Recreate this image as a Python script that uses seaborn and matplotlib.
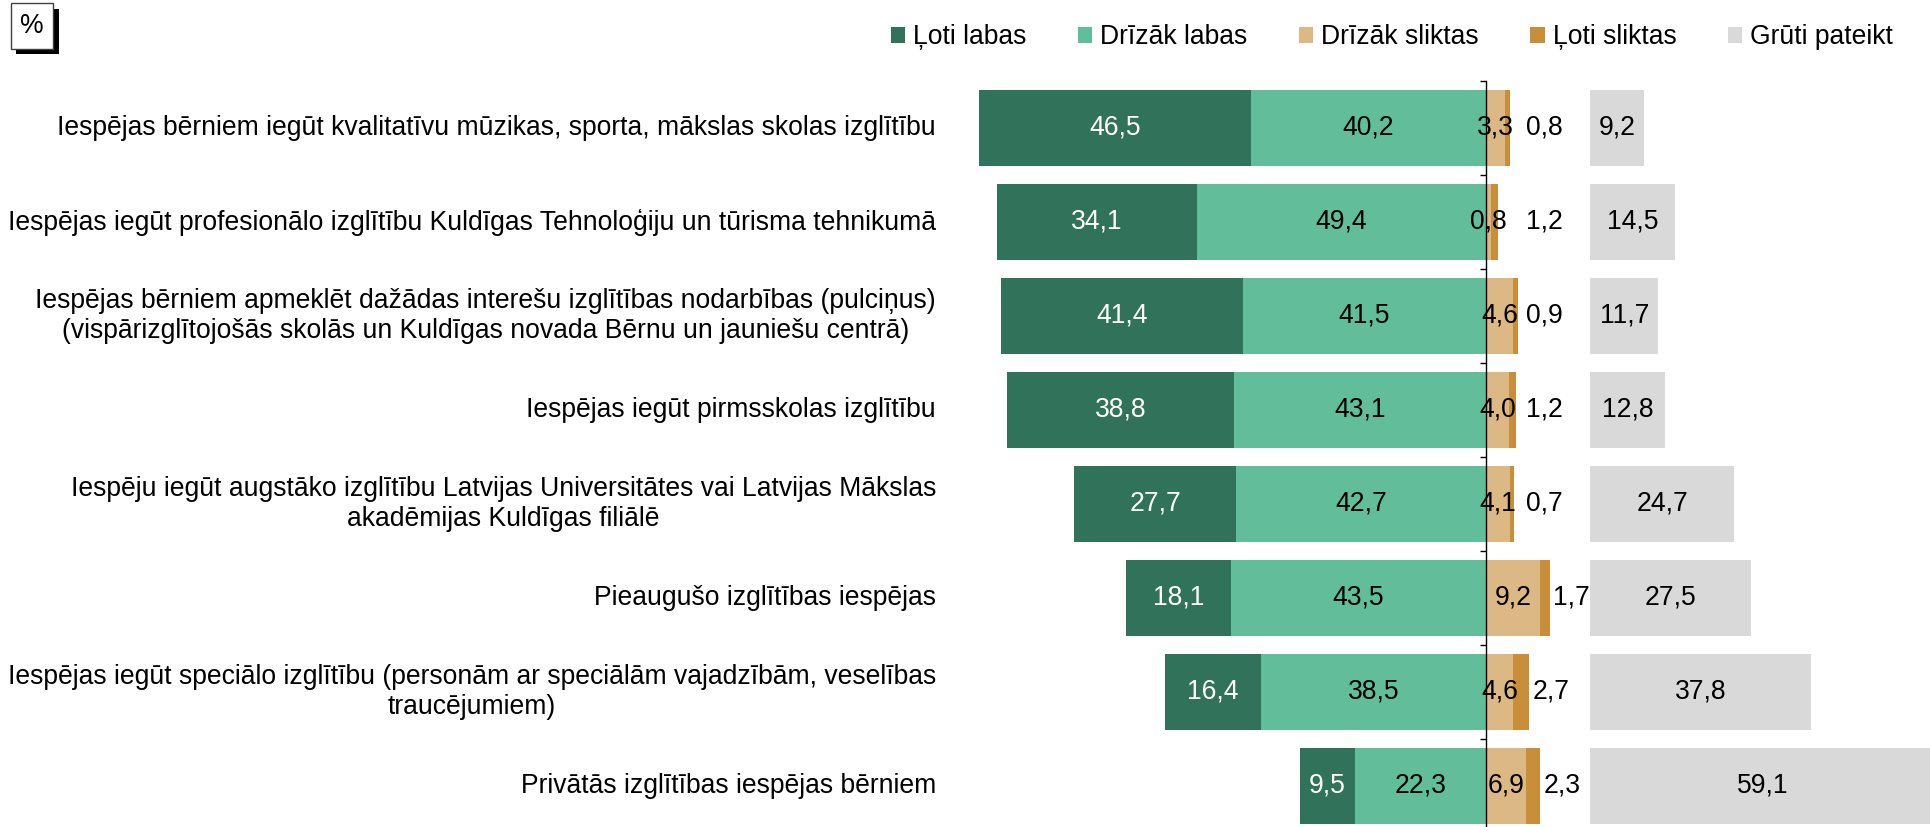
import numpy as np
import pandas as pd
import matplotlib
matplotlib.use("Agg")
import matplotlib.pyplot as plt
import matplotlib.transforms as mtransforms
import matplotlib.patheffects as pe
from matplotlib.patches import Patch
import seaborn as sns

# ---------------- data ----------------
categories = [
    "Iespējas bērniem iegūt kvalitatīvu mūzikas, sporta, mākslas skolas izglītību",
    "Iespējas iegūt profesionālo izglītību Kuldīgas Tehnoloģiju un tūrisma tehnikumā",
    "Iespējas bērniem apmeklēt dažādas interešu izglītības nodarbības (pulciņus)\n(vispārizglītojošās skolās un Kuldīgas novada Bērnu un jauniešu centrā)",
    "Iespējas iegūt pirmsskolas izglītību",
    "Iespēju iegūt augstāko izglītību Latvijas Universitātes vai Latvijas Mākslas\nakadēmijas Kuldīgas filiālē",
    "Pieaugušo izglītības iespējas",
    "Iespējas iegūt speciālo izglītību (personām ar speciālām vajadzībām, veselības\ntraucējumiem)",
    "Privātās izglītības iespējas bērniem",
]
loti_labas = [46.5, 34.1, 41.4, 38.8, 27.7, 18.1, 16.4, 9.5]
drizak_labas = [40.2, 49.4, 41.5, 43.1, 42.7, 43.5, 38.5, 22.3]
drizak_sliktas = [3.3, 0.8, 4.6, 4.0, 4.1, 9.2, 4.6, 6.9]
loti_sliktas = [0.8, 1.2, 0.9, 1.2, 0.7, 1.7, 2.7, 2.3]
gruti_pateikt = [9.2, 14.5, 11.7, 12.8, 24.7, 27.5, 37.8, 59.1]
series_names = ["Ļoti labas", "Drīzāk labas", "Drīzāk sliktas", "Ļoti sliktas", "Grūti pateikt"]

# ---------------- style ----------------
colors = ["#31735A", "#62BE9A", "#DCB884", "#C88E3A", "#D9D9D9"]
FS = 19.1
GREY_OFFSET = 17.8

sns.set_style("white")
plt.rcParams["font.family"] = ["Liberation Sans", "DejaVu Sans"]
plt.rcParams["text.color"] = "black"

fig = plt.figure(figsize=(19.31, 8.27), dpi=100)
ax = fig.add_axes([960 / 1931, -6 / 827, 971 / 1931, (833 - 81) / 827])

ll = np.array(loti_labas)
dl = np.array(drizak_labas)
ds = np.array(drizak_sliktas)
ls = np.array(loti_sliktas)
gp = np.array(gruti_pateikt)

df = pd.DataFrame({"cat": categories})

def layer(values, left, color):
    d = df.copy()
    d["val"] = values
    sns.barplot(data=d, x="val", y="cat", order=categories, orient="h",
                color=color, saturation=1, width=0.8, left=left,
                linewidth=0, errorbar=None, ax=ax)

layer(-ll, -dl, colors[0])
layer(-dl, np.zeros(len(dl)), colors[1])
layer(ds, np.zeros(len(ds)), colors[2])
layer(ls, ds, colors[3])
layer(gp, np.full(len(gp), GREY_OFFSET), colors[4])

ax.set_xlim(-89.9, 76.1)
ax.set_ylim(len(categories) - 0.5, -0.5)
ax.set_xlabel("")
ax.set_ylabel("")
ax.set_xticks([])
ax.set_yticks([])
for s in ["top", "right", "bottom"]:
    ax.spines[s].set_visible(False)
ax.spines["left"].set_position(("data", 0))
ax.spines["left"].set_linewidth(1.0)
ax.spines["left"].set_color("black")
ax.set_yticks(np.arange(len(categories) + 1) - 0.5, minor=True)
ax.tick_params(axis="y", which="minor", direction="out", length=4, width=1,
               color="black", left=True)
ax.set_facecolor("white")

def fmt(v):
    return f"{v:.1f}".replace(".", ",")

for i in range(len(categories)):
    ax.text(-(dl[i] + ll[i] / 2), i, fmt(ll[i]), ha="center", va="center",
            color="white", fontsize=FS)
    ax.text(-dl[i] / 2, i, fmt(dl[i]), ha="center", va="center",
            color="black", fontsize=FS)
    ax.text(ds[i] / 2, i, fmt(ds[i]), ha="center", va="center",
            color="black", fontsize=FS)
    ax.text(max(10.0, ds[i] + ls[i] + 3.8), i, fmt(ls[i]), ha="center",
            va="center", color="black", fontsize=FS)
    ax.text(GREY_OFFSET + gp[i] / 2, i, fmt(gp[i]), ha="center", va="center",
            color="black", fontsize=FS)

# category labels
trans = mtransforms.blended_transform_factory(ax.transAxes, ax.transData) + \
    mtransforms.ScaledTranslation(-24 / 100, 0, fig.dpi_scale_trans)
for i, c in enumerate(categories):
    ax.text(0, i, c, transform=trans, ha="right", va="center",
            multialignment="center", fontsize=FS, color="black", clip_on=False)

# legend
handles = [Patch(facecolor=col, edgecolor="none") for col in colors]
leg = fig.legend(handles, series_names, loc="center right",
                 bbox_to_anchor=(1893 / 1931, 1 - 37 / 827), ncol=5, frameon=False,
                 fontsize=FS, handlelength=0.55, handleheight=0.55,
                 handletextpad=0.3, columnspacing=1.93, borderaxespad=0, borderpad=0)
for txt in leg.get_texts():
    txt.set_color("black")

# percent box
t = fig.text(32 / 1931, 1 - 26 / 827, "%", ha="center", va="center",
             fontsize=FS, color="black",
             bbox=dict(boxstyle="square,pad=0.36", facecolor="white",
                       edgecolor="#404040", linewidth=1))
t.get_bbox_patch().set_path_effects([
    pe.SimplePatchShadow(offset=(4, -4), shadow_rgbFace="black", alpha=1),
    pe.Normal()])

fig.savefig("out.png", dpi=100, facecolor="white")
